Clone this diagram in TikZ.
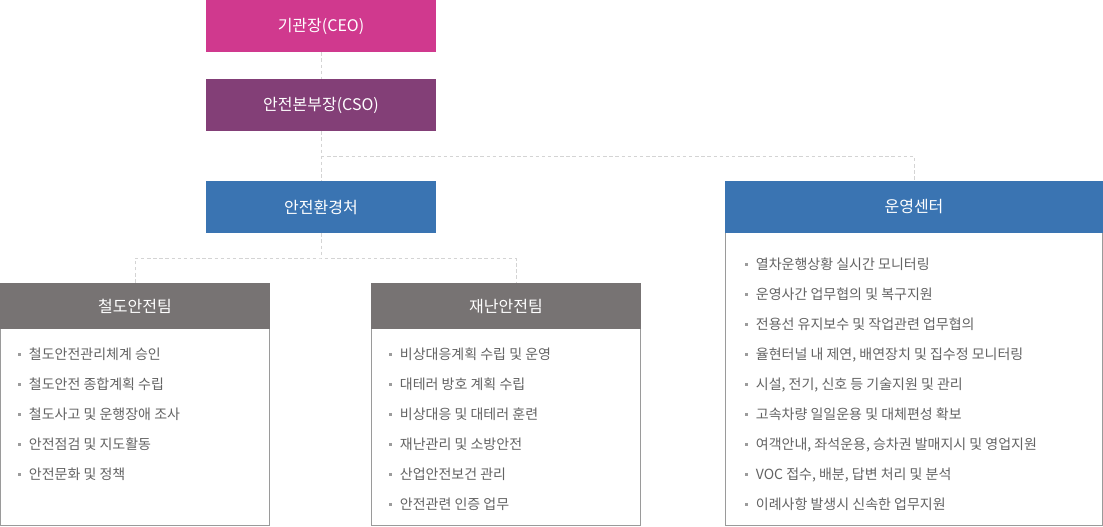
\documentclass[tikz,border=0pt]{standalone}
\usepackage{fontspec}
\setmainfont{Noto Sans CJK KR}
\usepackage{tikz}
\usetikzlibrary{positioning}
\definecolor{ceopink}{HTML}{D0398E}
\definecolor{csopurple}{HTML}{833F77}
\definecolor{deptblue}{HTML}{3A74B2}
\definecolor{teamgray}{HTML}{777373}
\definecolor{linegray}{HTML}{D4D4D4}
\definecolor{bordergray}{HTML}{9A9A9A}
\definecolor{textgray}{HTML}{636363}
\definecolor{bulletgray}{HTML}{9C9C9C}
\newcommand{\bul}{{\color{bulletgray}\rule[0.3em]{2.4pt}{2.4pt}}\hspace{5.6pt}}

\begin{document}
\begin{tikzpicture}[
  x=0.75pt,y=-0.75pt,
  head/.style={
    rectangle,
    inner sep=0pt,
    text=white,
    font=\fontsize{12pt}{14pt}\selectfont,
    minimum width=172.5pt,
    minimum height=39pt
  },
  teamhead/.style={head,fill=teamgray,minimum width=202.5pt,minimum height=34.5pt},
  panel/.style={rectangle,draw=bordergray,line width=0.75pt,fill=white,inner sep=0pt},
  items/.style={
    anchor=north west,
    align=left,
    inner sep=0pt,
    text=textgray,
    font=\fontsize{10.5pt}{22.5pt}\selectfont
  },
  link/.style={draw=linegray,line width=0.75pt,dash pattern=on 2.6pt off 2pt}
]
\useasboundingbox (0,0) rectangle (1103,526);

% top of the chart
\node[head,fill=ceopink] (ceo) at (321,26) {기관장(CEO)};
\node[head,fill=csopurple] (cso) at (321,105) {안전본부장(CSO)};
\node[head,fill=deptblue] (safety) at (321,207) {안전환경처};

% operation center
\node[panel,minimum width=282.75pt,minimum height=219.4pt] (opsbody) at (914,379.2) {};
\node[head,fill=deptblue,minimum width=283.5pt] (ops) at (914,207) {운영센터};
\node[items] (opslist) at (745,258) {\bul 열차운행상황 실시간 모니터링\\
  \bul 운영사간 업무협의 및 복구지원\\
  \bul 전용선 유지보수 및 작업관련 업무협의\\
  \bul 율현터널 내 제연, 배연장치 및 집수정 모니터링\\
  \bul 시설, 전기, 신호 등 기술지원 및 관리\\
  \bul 고속차량 일일운용 및 대체편성 확보\\
  \bul 여객안내, 좌석운용, 승차권 발매지시 및 영업지원\\
  \bul VOC 접수, 배분, 답변 처리 및 분석\\
  \bul 이례사항 발생시 신속한 업무지원};

% teams
\node[panel,minimum width=201.75pt,minimum height=147.4pt] (railbody) at (135,427.2) {};
\node[teamhead] (railhead) at (135,306) {철도안전팀};
\node[items] (raillist) at (18,348) {\bul 철도안전관리체계 승인\\
  \bul 철도안전 종합계획 수립\\
  \bul 철도사고 및 운행장애 조사\\
  \bul 안전점검 및 지도활동\\
  \bul 안전문화 및 정책};

\node[panel,minimum width=201.75pt,minimum height=147.4pt] (disbody) at (506,427.2) {};
\node[teamhead] (dishead) at (506,306) {재난안전팀};
\node[items] (dislist) at (389,348) {\bul 비상대응계획 수립 및 운영\\
  \bul 대테러 방호 계획 수립\\
  \bul 비상대응 및 대테러 훈련\\
  \bul 재난관리 및 소방안전\\
  \bul 산업안전보건 관리\\
  \bul 안전관련 인증 업무};

% dashed links
\coordinate (fork1) at (321,156);
\coordinate (fork2) at (321,258);
\draw[link] (ceo.south) -- (cso.north);
\draw[link] (cso.south) -- (safety.north);
\draw[link] (fork1) -| (ops.north);
\draw[link] (safety.south) -- (fork2);
\draw[link] (railhead.north) |- (fork2) -- ([xshift=7.5pt]dishead.north |- fork2) -- ([xshift=7.5pt]dishead.north);
\end{tikzpicture}
\end{document}
